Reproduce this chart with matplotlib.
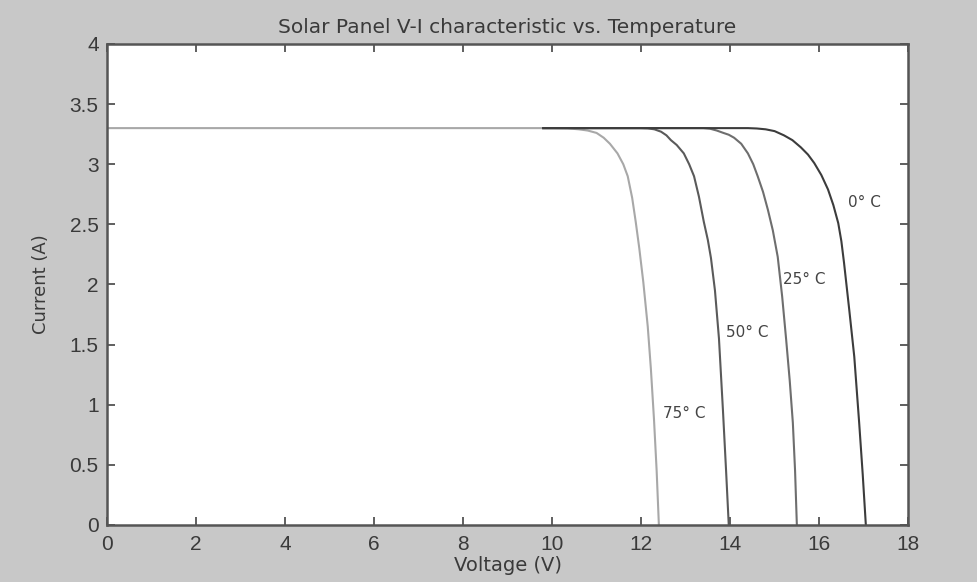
import numpy as np
import matplotlib
matplotlib.use("Agg")
import matplotlib.pyplot as plt
from matplotlib.ticker import FormatStrFormatter

# V-I curves (voltage in V, current in A)
v_75 = [0.0, 10.0, 10.35, 10.6, 10.8, 11.0, 11.16, 11.3, 11.47, 11.6, 11.7, 11.8,
        11.88, 11.96, 12.05, 12.15, 12.22, 12.29, 12.35, 12.4]
i_75 = [3.30, 3.30, 3.298, 3.29, 3.28, 3.26, 3.22, 3.17, 3.09, 3.00, 2.90, 2.72,
        2.52, 2.30, 2.02, 1.65, 1.30, 0.88, 0.45, 0.0]

v_50 = [9.8, 12.0, 12.15, 12.3, 12.45, 12.57, 12.67, 12.8, 12.96, 13.08, 13.19, 13.3,
        13.41, 13.5, 13.57, 13.66, 13.75, 13.84, 13.91, 13.97]
i_50 = [3.30, 3.30, 3.298, 3.29, 3.27, 3.24, 3.20, 3.16, 3.09, 3.00, 2.90, 2.73,
        2.52, 2.37, 2.22, 1.95, 1.55, 0.95, 0.45, 0.0]

v_25 = [9.8, 13.4, 13.55, 13.7, 13.85, 13.97, 14.09, 14.25, 14.4, 14.52, 14.62, 14.74,
        14.85, 14.96, 15.07, 15.17, 15.26, 15.34, 15.41, 15.46, 15.5]
i_25 = [3.30, 3.30, 3.295, 3.28, 3.26, 3.245, 3.22, 3.17, 3.09, 3.00, 2.90, 2.77,
        2.62, 2.45, 2.23, 1.90, 1.54, 1.20, 0.85, 0.45, 0.0]

v_0 = [9.8, 14.4, 14.6, 14.8, 15.0, 15.21, 15.4, 15.59, 15.75, 15.89, 16.05, 16.2,
       16.32, 16.43, 16.5, 16.56, 16.68, 16.79, 16.9, 16.98, 17.05]
i_0 = [3.30, 3.30, 3.297, 3.29, 3.275, 3.24, 3.20, 3.14, 3.08, 3.01, 2.91, 2.79,
       2.66, 2.51, 2.36, 2.18, 1.78, 1.40, 0.85, 0.42, 0.0]

labels = ["75° C", "50° C", "25° C", "0° C"]
label_pos = [(12.5, 0.93), (13.9, 1.6), (15.2, 2.04), (16.65, 2.68)]

plt.rcParams['font.family'] = ['Liberation Sans', 'DejaVu Sans']

fig = plt.figure(figsize=(9.77, 5.82), dpi=100, facecolor="#c8c8c8")
ax = fig.add_axes([0.1095, 0.098, 0.82, 0.8265])
ax.set_facecolor("white")

ax.plot(v_75, i_75, color="#a8a8a8", lw=1.5)
ax.plot(v_50, i_50, color="#5a5a5a", lw=1.5)
ax.plot(v_25, i_25, color="#6e6e6e", lw=1.5)
ax.plot(v_0, i_0, color="#3c3c3c", lw=1.5)

for txt, (x, y) in zip(labels, label_pos):
    ax.text(x, y, txt, fontsize=11, color="#444444", va="center", ha="left",
            family=["DejaVu Sans"])

ax.set_xlim(0, 18)
ax.set_ylim(0, 4)
ax.set_xticks(np.arange(0, 19, 2))
ax.set_yticks(np.arange(0, 4.01, 0.5))
ax.yaxis.set_major_formatter(FormatStrFormatter('%g'))
ax.tick_params(direction="in", top=True, right=True, length=6, width=1.2,
               color="#444444", labelsize=15, labelcolor="#3a3a3a")
ax.tick_params(axis="x", pad=7)
ax.tick_params(axis="y", pad=6)
for s in ax.spines.values():
    s.set_color("#555555")
    s.set_linewidth(1.8)

ax.set_title("Solar Panel V-I characteristic vs. Temperature", fontsize=14.5,
             color="#3a3a3a", pad=8, family=["DejaVu Sans"])
ax.set_xlabel("Voltage (V)", fontsize=14, color="#3a3a3a", labelpad=2,
              family=["DejaVu Sans"])
ax.set_ylabel("Current (A)", fontsize=13, color="#3a3a3a", labelpad=14,
              family=["DejaVu Sans"])

plt.savefig("out.png", dpi=100, facecolor=fig.get_facecolor())
